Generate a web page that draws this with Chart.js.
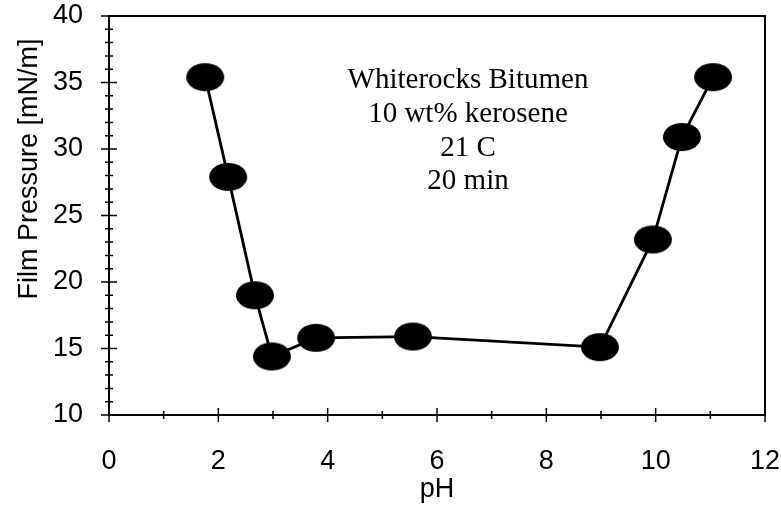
<!DOCTYPE html>
<html>
<head>
<meta charset="utf-8">
<script src="https://cdn.jsdelivr.net/npm/chart.js@4"></script>
<style>
  html, body { margin: 0; padding: 0; background: #fff; }
  #wrap { width: 781px; height: 512px; }
</style>
</head>
<body>
<div id="wrap"><canvas id="canvasOne"></canvas></div>
<script>
// data
var phValues = [1.76, 2.18, 2.67, 2.98, 3.79, 5.56, 8.98, 9.95, 10.48, 11.05];
var filmPressure = [35.4, 27.9, 19.0, 14.4, 15.8, 15.9, 15.1, 23.2, 30.9, 35.4];
var xTicks = [0, 2, 4, 6, 8, 10, 12];
var yTicks = [10, 15, 20, 25, 30, 35, 40];
var noteLines = ['Whiterocks Bitumen', '10 wt% kerosene', '21 C', '20 min'];

var points = phValues.map(function(x, i) {
    return { x: x, y: filmPressure[i] };
});

// filled ellipse marker
var dot = document.createElement('canvas');
dot.width = 40;
dot.height = 30;
var dctx = dot.getContext('2d');
dctx.fillStyle = '#000';
dctx.beginPath();
dctx.ellipse(20, 15, 19, 14, 0, 0, Math.PI * 2);
dctx.fill();

var sansFont = 'Liberation Sans, Arial, sans-serif';

function noPad(s) {
    s.paddingTop = 0;
    s.paddingBottom = 0;
    s.paddingLeft = 0;
    s.paddingRight = 0;
}

var framePlugin = {
    id: 'frame',
    afterDraw: function(chart) {
        var c = chart.ctx;
        var a = chart.chartArea;
        var xs = chart.scales.x;
        var ys = chart.scales.y;
        c.save();
        c.strokeStyle = '#000';
        c.lineWidth = 2;
        c.beginPath();
        c.moveTo(a.left, a.top);
        c.lineTo(a.right, a.top);
        c.lineTo(a.right, a.bottom);
        c.stroke();

        // tick marks across the axes
        c.lineWidth = 1.5;
        c.beginPath();
        for (var v = 0; v <= 12; v++) {
            var px = xs.getPixelForValue(v);
            var len = v % 2 === 0 ? 7 : 4;
            c.moveTo(px, a.bottom - len);
            c.lineTo(px, a.bottom + len);
        }
        for (var w = 10; w <= 40; w++) {
            var py = ys.getPixelForValue(w);
            var l2 = w % 5 === 0 ? 8 : 4;
            c.moveTo(a.left - l2, py);
            c.lineTo(a.left + l2, py);
        }
        c.stroke();

        // y title
        c.fillStyle = '#000';
        c.font = '27px ' + sansFont;
        c.textAlign = 'center';
        c.textBaseline = 'alphabetic';
        c.translate(37, 169);
        c.rotate(-Math.PI / 2);
        c.fillText('Film Pressure [mN/m]', 0, 0);
        c.restore();

        // note text
        c.save();
        c.fillStyle = '#000';
        c.font = '29px Liberation Serif, Times New Roman, serif';
        c.textAlign = 'center';
        c.textBaseline = 'alphabetic';
        var base = [88, 122, 156, 189];
        noteLines.forEach(function(t, i) {
            c.fillText(t, 468, base[i]);
        });
        c.restore();
    }
};

var ctx = document.getElementById('canvasOne').getContext('2d');
var config = {
    type: 'scatter',
    data: {
        datasets: [{
            label: 'Film Pressure',
            data: points,
            showLine: true,
            borderColor: '#000',
            borderWidth: 2.8,
            backgroundColor: '#000',
            pointStyle: dot,
            pointRadius: 15,
            pointHoverRadius: 15,
            tension: 0
        }]
    },
    options: {
        responsive: false,
        animation: false,
        layout: { autoPadding: false, padding: { top: 16, right: 16, left: 0, bottom: 0 } },
        plugins: {
            legend: { display: false },
            tooltip: { enabled: false }
        },
        scales: {
            x: {
                type: 'linear',
                min: 0,
                max: 12,
                afterBuildTicks: function(s) {
                    s.ticks = xTicks.map(function(v) { return { value: v }; });
                },
                afterFit: function(s) { s.height = 97; noPad(s); },
                grid: { display: false, drawTicks: false },
                border: { display: true, color: '#000', width: 2 },
                ticks: {
                    color: '#000',
                    padding: 30,
                    maxRotation: 0,
                    font: { family: sansFont, size: 27 }
                },
                title: {
                    display: true,
                    text: 'pH',
                    color: '#000',
                    padding: { top: 0, bottom: 6 },
                    font: { family: sansFont, size: 27 }
                }
            },
            y: {
                min: 10,
                max: 40,
                afterBuildTicks: function(s) {
                    s.ticks = yTicks.map(function(v) { return { value: v }; });
                },
                afterFit: function(s) { s.width = 109; noPad(s); },
                grid: { display: false, drawTicks: false },
                border: { display: true, color: '#000', width: 2 },
                ticks: {
                    color: '#000',
                    padding: 26,
                    font: { family: sansFont, size: 27 }
                }
            }
        }
    },
    plugins: [framePlugin]
};

var canvas = document.getElementById('canvasOne');
canvas.width = 781;
canvas.height = 512;
var chart = new Chart(ctx, config);
</script>
</body>
</html>
